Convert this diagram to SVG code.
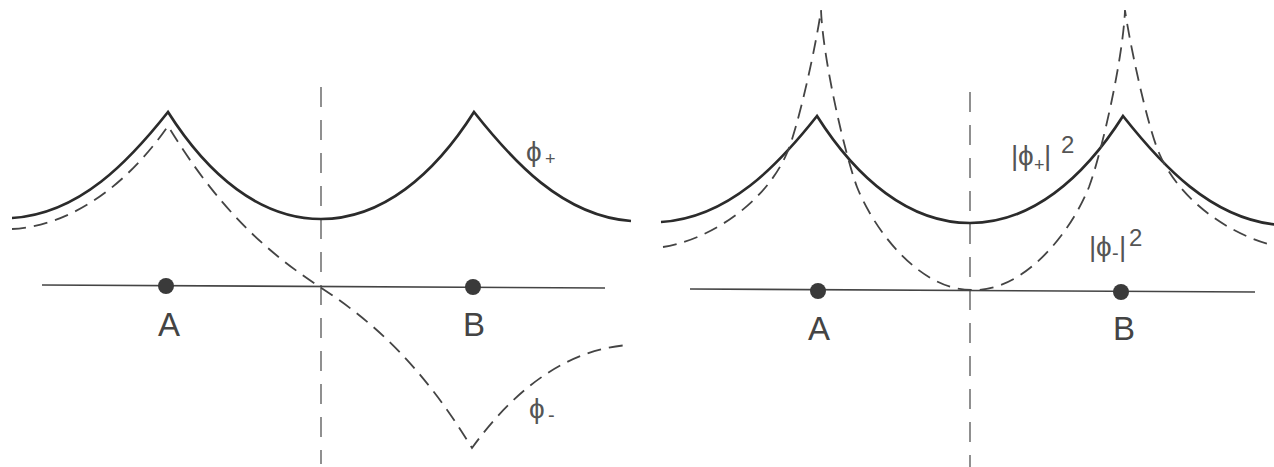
<svg xmlns="http://www.w3.org/2000/svg" xmlns:xlink="http://www.w3.org/1999/xlink" width="1274" height="467" viewBox="0 0 1274 467">
<style>
.solid{fill:none;stroke:#2b2b2b;stroke-width:2.7;stroke-linejoin:miter}
.dash{fill:none;stroke:#444;stroke-width:1.8;stroke-dasharray:14 8}
.vline{fill:none;stroke:#555;stroke-width:1.3;stroke-dasharray:20 13}
.axis{fill:none;stroke:#444;stroke-width:1.6}
.dot{fill:#3a3a3a}
.lbl{font-family:"Liberation Sans",Arial,sans-serif;fill:#444;font-size:33px}
.sym{font-family:"Liberation Sans","DejaVu Sans",Arial,sans-serif;fill:#555;font-size:28px}
</style>
<defs>
<path id="psiPlus" d="M12,218 C80,214 130,160 168,112 C208,175 260,219 321,219 C382,219 434,175 474,112 C512,160 562,216 631,221"/>
</defs>
<rect width="1274" height="467" fill="#fff"/>
<g id="left-panel">
  <g id="left-axis">
    <line class="vline" x1="321" y1="87" x2="321" y2="464"/>
    <line class="axis" x1="42" y1="285" x2="605" y2="288"/>
    <circle class="dot" cx="166" cy="286" r="8"/>
    <circle class="dot" cx="473" cy="287" r="8"/>
  </g>
  <g id="left-curves">
    <use href="#psiPlus" class="solid"/>
    <path class="dash" d="M12,229 C80,225 134,175 168,126 C218,208 265,251 320,287 C375,323 422,366 472,448 C508,398 560,350 628,345"/>
  </g>
  <g id="left-labels">
    <text class="lbl" x="169" y="336" text-anchor="middle">A</text>
    <text class="lbl" x="474" y="336" text-anchor="middle">B</text>
    <text class="sym" x="526" y="161">ϕ<tspan x="545" y="165" font-size="18">+</tspan></text>
    <text class="sym" x="529" y="418">ϕ<tspan x="548" y="422" font-size="20">-</tspan></text>
  </g>
</g>
<g id="right-panel">
  <g id="right-axis">
    <line class="vline" x1="970" y1="92" x2="970" y2="467"/>
    <line class="axis" x1="690" y1="289" x2="1255" y2="292"/>
    <circle class="dot" cx="818" cy="291" r="8"/>
    <circle class="dot" cx="1121" cy="292" r="8"/>
  </g>
  <g id="right-curves">
    <use href="#psiPlus" class="solid" transform="translate(649,4)"/>
    <path class="dash" d="M663,247 C700,242 762,210 787,153 C799,125 817,40 821,10 C823,60 845,155 857,187 C875,232 921,291 973,290 C1025,291 1071,232 1089,187 C1101,155 1123,60 1125,10 C1129,40 1147,125 1159,153 C1184,210 1246,242 1283,247"/>
  </g>
  <g id="right-labels">
    <text class="lbl" x="819" y="340" text-anchor="middle">A</text>
    <text class="lbl" x="1124" y="340" text-anchor="middle">B</text>
    <text class="sym" x="1011" y="165">|<tspan x="1018">ϕ</tspan><tspan x="1034" y="171" font-size="18">+</tspan><tspan x="1044" y="165">|</tspan><tspan x="1061" y="153" font-size="24">2</tspan></text>
    <text class="sym" x="1089" y="256">|<tspan x="1096">ϕ</tspan><tspan x="1112" y="260" font-size="20">-</tspan><tspan x="1119" y="256">|</tspan><tspan x="1129" y="246" font-size="24">2</tspan></text>
  </g>
</g>
</svg>
